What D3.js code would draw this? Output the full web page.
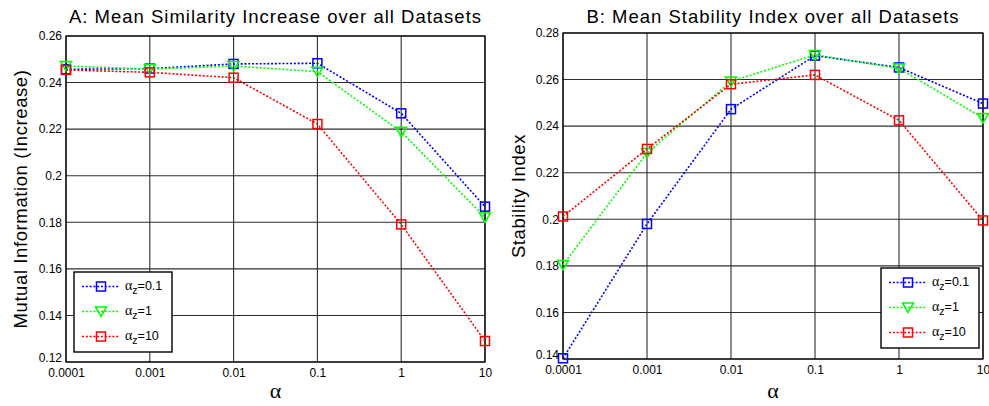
<!DOCTYPE html>
<html>
<head>
<meta charset="utf-8">
<script src="https://cdn.jsdelivr.net/npm/d3@7"></script>
<style>
  body { margin: 0; background: #fff; }
  svg { font-family: "Liberation Sans", Arial, sans-serif; }
</style>
</head>
<body>
<svg id="chart"></svg>
<script>
let alphas = [0.0001, 0.001, 0.01, 0.1, 1, 10]
let alphaLabels = ['0.0001', '0.001', '0.01', '0.1', '1', '10']
let seriesNames = ['0.1', '1', '10']

// panel A: mutual information increase
let miBlue = [0.2457, 0.2460, 0.2480, 0.2483, 0.2268, 0.1867]
let miGreen = [0.2471, 0.2458, 0.2471, 0.2447, 0.2189, 0.1821]
let miRed = [0.2454, 0.2444, 0.2421, 0.2222, 0.1791, 0.1290]
let miTicks = [0.12, 0.14, 0.16, 0.18, 0.2, 0.22, 0.24, 0.26]

// panel B: stability index
let siBlue = [0.1403, 0.1980, 0.2473, 0.2703, 0.2652, 0.2497]
let siGreen = [0.1804, 0.2285, 0.2592, 0.2706, 0.2648, 0.2435]
let siRed = [0.2012, 0.2302, 0.2580, 0.2620, 0.2425, 0.1995]
let siTicks = [0.14, 0.16, 0.18, 0.2, 0.22, 0.24, 0.26, 0.28]

let width = 989
let height = 406

let svg = d3.select('#chart')
  .attr('width', width)
  .attr('height', height)

let colors = ['#0000ff', '#00ff00', '#ff0000']
let markers = ['square', 'triangle', 'square']

let drawMarker = (g, kind, x, y, color) => {
  if (kind == 'square') {
    g.append('rect')
     .attr('x', x - 4.5)
     .attr('y', y - 4.5)
     .attr('width', 9)
     .attr('height', 9)
     .attr('fill', 'none')
     .attr('stroke', color)
     .attr('stroke-width', 1.5)
  } else {
    g.append('path')
     .attr('d', 'M' + (x - 5.5) + ',' + (y - 4.5) + 'L' + (x + 5.5) + ',' + (y - 4.5) + 'L' + x + ',' + (y + 5) + 'Z')
     .attr('fill', 'none')
     .attr('stroke', color)
     .attr('stroke-width', 1.5)
  }
}

let drawPanel = (opts) => {
  let xScale = d3.scaleLog()
                 .domain([alphas[0], alphas[alphas.length - 1]])
                 .range([opts.left, opts.right])
  let yScale = d3.scaleLinear()
                 .domain([opts.ticks[0], opts.ticks[opts.ticks.length - 1]])
                 .range([opts.bottom, opts.top])

  let g = svg.append('g')

  // grid
  g.append('g')
   .selectAll('line')
   .data(alphas)
   .enter()
   .append('line')
   .attr('x1', (d) => xScale(d))
   .attr('x2', (d) => xScale(d))
   .attr('y1', opts.top)
   .attr('y2', opts.bottom)
   .attr('stroke', '#2e2e2e')
   .attr('stroke-width', 1.1)
  g.append('g')
   .selectAll('line')
   .data(opts.ticks)
   .enter()
   .append('line')
   .attr('x1', opts.left)
   .attr('x2', opts.right)
   .attr('y1', (d) => yScale(d))
   .attr('y2', (d) => yScale(d))
   .attr('stroke', '#2e2e2e')
   .attr('stroke-width', 1.1)

  // axes
  let xAxis = d3.axisBottom(xScale)
                .tickValues(alphas)
                .tickFormat((d, i) => alphaLabels[i])
                .tickSize(0)
                .tickPadding(6)
  let yAxis = d3.axisLeft(yScale)
                .tickValues(opts.ticks)
                .tickFormat((d) => d3.format('')(+d.toFixed(2)))
                .tickSize(0)
                .tickPadding(4)

  let xg = g.append('g')
            .attr('transform', 'translate(0,' + opts.bottom + ')')
            .call(xAxis)
  let yg = g.append('g')
            .attr('transform', 'translate(' + opts.left + ',0)')
            .call(yAxis)
  ;[xg, yg].forEach((a) => {
    a.select('.domain').remove()
    a.selectAll('text')
     .attr('font-size', 12)
     .attr('font-family', '"Liberation Sans", Arial, sans-serif')
     .attr('fill', '#000')
  })
  // lowest y label sits a little higher so it clears the first x label
  yg.selectAll('.tick text')
    .filter((d, i) => i == 0)
    .attr('y', -4)

  g.append('rect')
   .attr('x', opts.left)
   .attr('y', opts.top)
   .attr('width', opts.right - opts.left)
   .attr('height', opts.bottom - opts.top)
   .attr('fill', 'none')
   .attr('stroke', '#000')
   .attr('stroke-width', 1.2)

  // series
  let line = d3.line()
               .x((d, i) => xScale(alphas[i]))
               .y((d) => yScale(d))
  opts.series.forEach((s, k) => {
    g.append('path')
     .attr('d', line(s))
     .attr('fill', 'none')
     .attr('stroke', colors[k])
     .attr('stroke-width', 1.6)
     .attr('stroke-dasharray', '2,1.8')
    s.forEach((v, i) => {
      drawMarker(g, markers[k], xScale(alphas[i]), yScale(v), colors[k])
    })
  })

  // title and labels
  let cx = (opts.left + opts.right) / 2
  g.append('text')
   .attr('x', cx)
   .attr('y', 23)
   .attr('text-anchor', 'middle')
   .attr('font-size', 18.5)
   .attr('letter-spacing', 1)
   .text(opts.title)
  g.append('text')
   .attr('x', cx)
   .attr('y', 398)
   .attr('text-anchor', 'middle')
   .attr('font-size', 22)
   .attr('font-family', '"Liberation Serif", "Times New Roman", serif')
   .text('α')
  g.append('text')
   .attr('transform', 'translate(' + opts.yLabelX + ',' + ((opts.top + opts.bottom) / 2) + ') rotate(-90)')
   .attr('text-anchor', 'middle')
   .attr('font-size', 18.5)
   .attr('letter-spacing', 0.6)
   .text(opts.yLabel)

  // legend
  let lg = g.append('g')
  lg.append('rect')
    .attr('x', opts.legX)
    .attr('y', opts.legY)
    .attr('width', 98)
    .attr('height', 80)
    .attr('fill', '#fff')
    .attr('stroke', '#000')
    .attr('stroke-width', 1.4)
  seriesNames.forEach((name, k) => {
    let yy = opts.legY + 14.5 + k * 25
    lg.append('line')
      .attr('x1', opts.legX + 8)
      .attr('x2', opts.legX + 45)
      .attr('y1', yy)
      .attr('y2', yy)
      .attr('stroke', colors[k])
      .attr('stroke-width', 1.6)
      .attr('stroke-dasharray', '2,1.8')
    drawMarker(lg, markers[k], opts.legX + 27, yy, colors[k])
    let t = lg.append('text')
              .attr('x', opts.legX + 51)
              .attr('y', yy + 3)
              .attr('font-size', 12.5)
    t.append('tspan')
     .attr('font-family', '"Liberation Serif", "Times New Roman", serif')
     .attr('font-size', 14)
     .text('α')
    t.append('tspan').attr('font-size', 10.5).attr('dy', 4).text('z')
    t.append('tspan').attr('dy', -4).text('=' + name)
  })
}

drawPanel({
  left: 66, right: 485, top: 36, bottom: 362,
  ticks: miTicks,
  series: [miBlue, miGreen, miRed],
  title: 'A: Mean Similarity Increase over all Datasets',
  yLabel: 'Mutual Information (Increase)',
  yLabelX: 27,
  legX: 74, legY: 272
})

drawPanel({
  left: 563, right: 983, top: 33, bottom: 359,
  ticks: siTicks,
  series: [siBlue, siGreen, siRed],
  title: 'B: Mean Stability Index over all Datasets',
  yLabel: 'Stability Index',
  yLabelX: 525,
  legX: 881, legY: 268
})
</script>
</body>
</html>
